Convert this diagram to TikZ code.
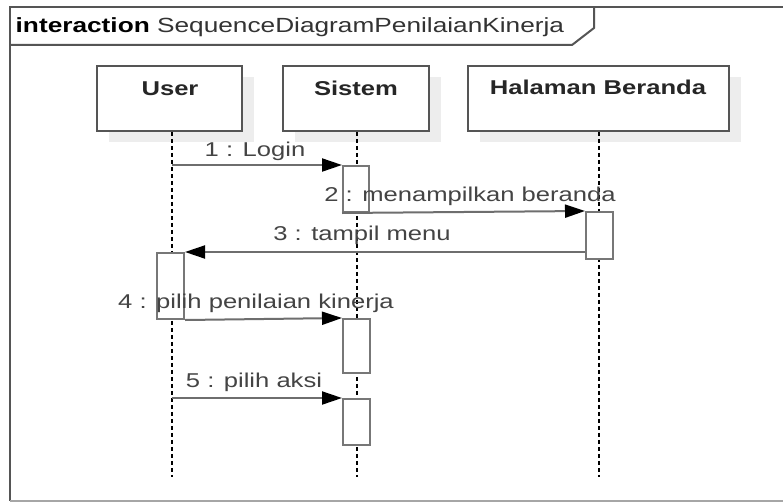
\documentclass[tikz,border=0pt]{standalone}
\usepackage{fontspec}
\setmainfont{Liberation Sans}[FakeStretch=1.28]
\usetikzlibrary{arrows.meta}
\definecolor{framegray}{HTML}{555555}
\definecolor{actgray}{HTML}{777777}
\definecolor{msggray}{HTML}{6E6E6E}
\definecolor{txtgray}{HTML}{444444}
\definecolor{shadowgray}{HTML}{EDEDED}
\tikzset{
  lifebox/.style={draw=framegray, line width=1.8pt, fill=white, rectangle, inner sep=0pt},
  lifeshadow/.style={fill=shadowgray, draw=none},
  lifename/.style={font=\fontsize{20}{24}\selectfont\bfseries, text=black!85, anchor=base, inner sep=0pt},
  actbox/.style={draw=actgray, line width=2pt, fill=white, rectangle, inner sep=0pt, anchor=north west},
  lifeline/.style={black, line width=1.4pt, dash pattern=on 4pt off 3pt},
  msgline/.style={msggray, line width=2pt, -{Triangle[length=20pt,width=13pt,fill=black,color=black]}},
  msglabel/.style={font=\fontsize{20}{24}\selectfont, text=txtgray, anchor=base, inner sep=0pt},
}
\begin{document}
\begin{tikzpicture}[x=1pt,y=-1pt]
\useasboundingbox (0,0) rectangle (783,503);
\fill[white] (0,0) rectangle (783,503);
% frame
\draw[framegray, line width=2pt] (795,7) -- (10,7) -- (10,501);
\draw[black!35, line width=2pt] (10,501) -- (795,501);
\draw[framegray, line width=2pt] (10,45) -- (572,45) -- (594,28) -- (594,7);
\node[anchor=base west, inner sep=0pt, font=\fontsize{20.5}{24}\selectfont, text=black!80] (title) at (15.5,33) {\textbf{\color{black}interaction} SequenceDiagramPenilaianKinerja};
% shadows
\fill[lifeshadow] (109,77) rectangle (254,142);
\fill[lifeshadow] (295,77) rectangle (441,142);
\fill[lifeshadow] (480,77) rectangle (741,142);
% lifeline boxes
\node[lifebox, minimum width=145pt, minimum height=65pt] (user) at (169.5,98.5) {};
\node[lifebox, minimum width=146pt, minimum height=65pt] (sistem) at (356,98.5) {};
\node[lifebox, minimum width=261pt, minimum height=65pt] (beranda) at (598.5,98.5) {};
\node[lifename] (userlbl) at (170,95) {User};
\node[lifename] (sistemlbl) at (356,95) {Sistem};
\node[lifename] (berandalbl) at (598,94) {Halaman Beranda};
% lifelines
\coordinate (uend) at (172,477);
\coordinate (send) at (357,477);
\coordinate (bend) at (599,477);
\draw[lifeline] (user.south -| uend) -- (uend);
\draw[lifeline] (sistem.south -| send) -- (send);
\draw[lifeline] (beranda.south -| bend) -- (bend);
% activations
\node[actbox, minimum width=26pt, minimum height=46pt] (act1) at (342,165) {};
\node[actbox, minimum width=27pt, minimum height=47pt] (actb) at (585,211) {};
\node[actbox, minimum width=27pt, minimum height=66pt] (actu) at (156,252) {};
\node[actbox, minimum width=27pt, minimum height=54pt] (act2) at (342,318) {};
\node[actbox, minimum width=27pt, minimum height=46pt] (act3) at (342,398) {};
% messages
\coordinate (m1s) at (172,165);
\coordinate (m3s) at (585,252);
\coordinate (m5s) at (172,398);
\draw[msgline] (m1s) -- (act1.north west);
\draw[msgline] (act1.south west) -- (actb.north west);
\draw[msgline] (m3s) -- (actu.north east);
\draw[msgline] (actu.south east) -- (act2.north west);
\draw[msgline] (m5s) -- (act3.north west);
% labels
\node[msglabel] (l1) at (255,156) {1 : Login};
\node[msglabel] (l2) at (470,201) {2 : menampilkan beranda};
\node[msglabel] (l3) at (362,240) {3 : tampil menu};
\node[msglabel] (l4) at (256,308) {4 : pilih penilaian kinerja};
\node[msglabel] (l5) at (254,387) {5 : pilih aksi};
\end{tikzpicture}
\end{document}
